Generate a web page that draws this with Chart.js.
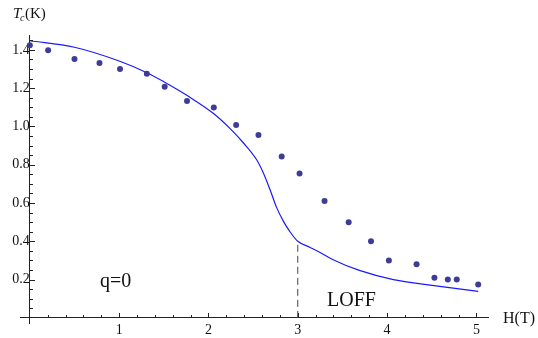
<!DOCTYPE html>
<html><head><meta charset="utf-8">
<script src="https://cdn.jsdelivr.net/npm/chart.js@4/dist/chart.umd.min.js"></script>
<style>html,body{margin:0;padding:0;background:#fff}#wrap{width:538px;height:338px}</style>
</head><body><div id="wrap"><canvas id="c" width="538" height="338"></canvas></div>
<script>
// Experimental points
const expH  = [0, 0.205, 0.50, 0.78, 1.01, 1.31, 1.51, 1.76, 2.06, 2.31, 2.56, 2.82, 3.02, 3.30, 3.57, 3.82, 4.02, 4.33, 4.53, 4.68, 4.78, 5.02];
const expTc = [1.425, 1.398, 1.352, 1.332, 1.30, 1.276, 1.208, 1.133, 1.099, 1.008, 0.955, 0.843, 0.754, 0.610, 0.499, 0.400, 0.300, 0.280, 0.210, 0.200, 0.200, 0.174];
// Theory curve
const theoryH  = [0, 0.5, 1.0, 1.31, 1.5, 1.68, 1.85, 2.05, 2.24, 2.39, 2.54, 2.61, 2.69, 2.76, 2.84, 2.91, 3.00, 3.14, 3.25, 3.39, 3.69, 4.07, 4.44, 5.02];
const theoryTc = [1.448, 1.414, 1.342, 1.281, 1.234, 1.185, 1.135, 1.07, 0.99, 0.915, 0.826, 0.762, 0.669, 0.580, 0.504, 0.452, 0.400, 0.368, 0.342, 0.305, 0.248, 0.200, 0.174, 0.138];
// Dashed marker at H = 3
const markerH  = [3, 3];
const markerTc = [0, 0.400];
// Tick labels
const xTickLabels = [1, 2, 3, 4, 5];
const yTickLabels = [0.2, 0.4, 0.6, 0.8, 1.0, 1.2, 1.4];
const xMinorStep = 0.2, yMinorStep = 0.05;

const pts = (xs, ys) => xs.map((x, i) => ({x, y: ys[i]}));
const SERIF = "'Liberation Serif', 'Times New Roman', serif";

const insideTicks = {
  id: 'insideTicks',
  afterDraw(chart) {
    const ctx = chart.ctx, xs = chart.scales.x, ys = chart.scales.y;
    const x0 = Math.round(xs.getPixelForValue(0)) ;
    const y0 = Math.round(ys.getPixelForValue(0));
    ctx.save();
    ctx.strokeStyle = '#222';
    ctx.lineWidth = 1;
    ctx.beginPath();
    for (let i = 1; i * xMinorStep <= xs.max + 1e-9; i++) {
      const v = i * xMinorStep;
      const major = xTickLabels.some(t => Math.abs(t - v) < 1e-6);
      const px = Math.round(xs.getPixelForValue(v)) + 0.5;
      ctx.moveTo(px, y0); ctx.lineTo(px, y0 - (major ? 5 : 3));
    }
    for (let i = 1; i * yMinorStep <= ys.max + 1e-9; i++) {
      const v = i * yMinorStep;
      const major = yTickLabels.some(t => Math.abs(t - v) < 1e-6);
      const py = Math.round(ys.getPixelForValue(v)) + 0.5;
      ctx.moveTo(x0, py); ctx.lineTo(x0 + (major ? 5 : 3), py);
    }
    ctx.stroke();

    ctx.fillStyle = '#111';
    ctx.textBaseline = 'alphabetic';
    ctx.textAlign = 'left';
    // y axis title T_c(K)
    ctx.font = 'italic 15px ' + SERIF;
    ctx.fillText('T', 13, 18);
    ctx.font = 'italic 10px ' + SERIF;
    ctx.fillText('c', 20, 21);
    ctx.font = '15px ' + SERIF;
    ctx.fillText('(K)', 25, 18);
    // x axis title
    ctx.font = '16px ' + SERIF;
    ctx.fillText('H(T)', 503, 323);
    // annotations
    ctx.font = '20px ' + SERIF;
    ctx.fillText('q=0', 100, 287);
    ctx.fillText('LOFF', 327, 306);
    ctx.restore();
  }
};

new Chart(document.getElementById('c'), {
  type: 'scatter',
  data: {
    datasets: [
      { data: pts(theoryH, theoryTc), showLine: true, pointRadius: 0, borderColor: '#1a1aff', borderWidth: 1.2, cubicInterpolationMode: 'monotone', order: 2 },
      { data: pts(markerH, markerTc), showLine: true, pointRadius: 0, borderColor: '#444', borderWidth: 1, borderDash: [7, 4], order: 3 },
      { data: pts(expH, expTc), pointRadius: 3, pointBackgroundColor: '#3d3d99', pointBorderWidth: 0, backgroundColor: '#3d3d99', order: 1 }
    ]
  },
  options: {
    responsive: false, animation: false, devicePixelRatio: 1,
    layout: { padding: { left: 20, right: 50, top: 35, bottom: 14 } },
    plugins: { legend: { display: false }, tooltip: { enabled: false } },
    scales: {
      x: {
        type: 'linear', min: -0.11, max: 5.13, position: { y: 0 },
        grid: { display: false, drawTicks: false },
        border: { display: true, color: '#222', width: 1 },
        afterBuildTicks: s => { s.ticks = xTickLabels.map(v => ({ value: v })); },
        ticks: { font: { family: SERIF, size: 14 }, color: '#111', padding: 4, autoSkip: false, maxRotation: 0, callback: v => String(v) }
      },
      y: {
        type: 'linear', min: -0.03, max: 1.478, position: { x: 0 },
        grid: { display: false, drawTicks: false },
        border: { display: true, color: '#222', width: 1 },
        afterBuildTicks: s => { s.ticks = yTickLabels.map(v => ({ value: v })); },
        ticks: { font: { family: SERIF, size: 14 }, color: '#111', padding: 6, autoSkip: false, callback: v => v.toFixed(1) }
      }
    }
  },
  plugins: [insideTicks]
});
</script>
</body></html>
